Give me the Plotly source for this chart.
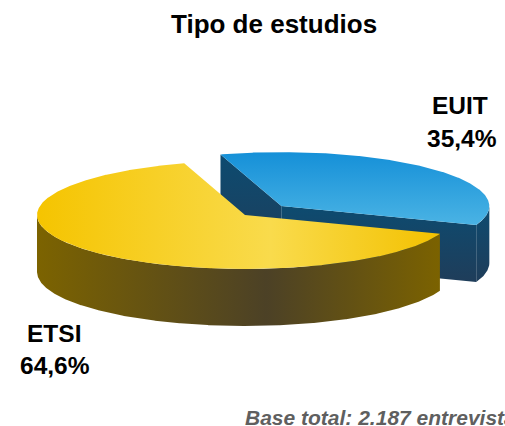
import numpy as np
import plotly.graph_objects as go

# ---- data ----
labels = ["EUIT", "ETSI"]
values = [35.4, 64.6]
title_text = "Tipo de estudios"
footer_text = "Base total: 2.187 entrevistas"

# ---- style / geometry (pixel space) ----
W, H = 505, 426
CX, CY = 245, 215
RX, RY = 208, 54
DEPTH = 57
ROTATION = 107          # start angle of first slice, degrees, clockwise direction
PULL = [0.24, 0.0]
TOP_SCALES = [
    ("vertical", [[0, "#1590D8"], [1, "#4AB3E4"]]),
    ("horizontal", [[0, "#F5C400"], [0.58, "#F9DB4C"], [1, "#F3C100"]]),
]
SIDE_SCALES = [
    ("vertical", [[0, "#0D4B70"], [1, "#1F3D5A"]]),
    ("horizontal", [[0, "#7C6300"], [0.57, "#4C4126"], [1, "#7B6200"]]),
]
FONT = "Liberation Sans, Arial, sans-serif"
LABEL_POS = [((460, 105), (462, 138)), ((54, 333), (55, 365))]

fig = go.Figure()


def poly(xs, ys, scale):
    gtype, cs = scale
    if gtype == "horizontal":
        lo, hi = float(np.min(xs)), float(np.max(xs))
    else:
        lo, hi = float(np.min(ys)), float(np.max(ys))
    fig.add_trace(go.Scatter(
        x=list(xs), y=list(ys), mode="lines", fill="toself",
        line=dict(width=0, color="rgba(0,0,0,0)"),
        fillgradient=dict(type=gtype, colorscale=cs, start=lo, stop=hi),
        hoverinfo="skip", showlegend=False,
    ))


total = float(sum(values))
slices = []
start = ROTATION
for i, v in enumerate(values):
    span = 360.0 * v / total
    s, e = start, start - span
    start = e
    mid = np.radians((s + e) / 2)
    ax = CX + PULL[i] * RX * np.cos(mid)
    ay = CY - PULL[i] * RY * np.sin(mid)
    slices.append(dict(i=i, s=s, e=e, mid=mid, ax=ax, ay=ay))

# back-to-front order
slices.sort(key=lambda d: -np.sin(d["mid"]))

for d in slices:
    i, s, e, ax, ay = d["i"], d["s"], d["e"], d["ax"], d["ay"]
    n = int(abs(s - e) * 4) + 2
    th = np.radians(np.linspace(s, e, n))
    arcx = ax + RX * np.cos(th)
    arcy = ay - RY * np.sin(th)
    # radial faces
    for ang, vis in ((s, np.cos(np.radians(s)) < 0), (e, np.cos(np.radians(e)) > 0)):
        if vis:
            px = ax + RX * np.cos(np.radians(ang))
            py = ay - RY * np.sin(np.radians(ang))
            poly([ax, px, px, ax, ax], [ay, py, py + DEPTH, ay + DEPTH, ay], SIDE_SCALES[i])
    # curved outer side (front part)
    mask = np.sin(th) <= 1e-9
    if mask.sum() > 1:
        tx, ty = arcx[mask], arcy[mask]
        xs = np.concatenate([tx, tx[::-1], tx[:1]])
        ys = np.concatenate([ty, ty[::-1] + DEPTH, ty[:1]])
        poly(xs, ys, SIDE_SCALES[i])
    # top face
    xs = np.concatenate([[ax], arcx, [ax]])
    ys = np.concatenate([[ay], arcy, [ay]])
    poly(xs, ys, TOP_SCALES[i])

annotations = [
    dict(x=274, y=24, text="<b>" + title_text + "</b>", showarrow=False,
         xanchor="center", yanchor="middle", font=dict(family=FONT, size=26, color="#000000")),
    dict(x=243, y=417, text="<b><i>" + footer_text + "</i></b>", showarrow=False,
         xanchor="left", yanchor="middle", font=dict(family=FONT, size=21, color="#5F5F5F")),
]
for i, (lab, v) in enumerate(zip(labels, values)):
    (x1, y1), (x2, y2) = LABEL_POS[i]
    pct = f"{100 * v / total:.1f}%".replace(".", ",")
    annotations.append(dict(x=x1, y=y1, text="<b>" + lab + "</b>", showarrow=False,
                            xanchor="center", yanchor="middle",
                            font=dict(family=FONT, size=24.5, color="#000000")))
    annotations.append(dict(x=x2, y=y2, text="<b>" + pct + "</b>", showarrow=False,
                            xanchor="center", yanchor="middle",
                            font=dict(family=FONT, size=24.5, color="#000000")))

fig.update_layout(
    width=W, height=H, margin=dict(l=0, r=0, t=0, b=0),
    paper_bgcolor="white", plot_bgcolor="white",
    xaxis=dict(range=[0, W], visible=False, fixedrange=True),
    yaxis=dict(range=[H, 0], visible=False, fixedrange=True),
    annotations=annotations, showlegend=False,
)
fig.write_html(
    "out.html",
    config={"displayModeBar": False},
    post_script="document.body.style.margin='0px';document.body.style.overflow='hidden';",
)
